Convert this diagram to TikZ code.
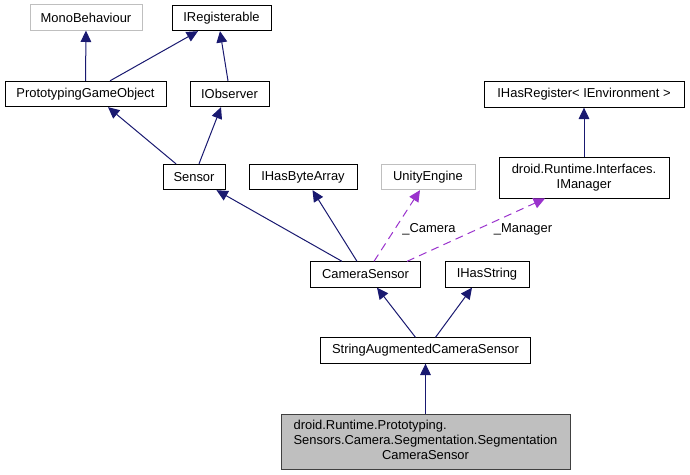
\documentclass[tikz,border=0pt]{standalone}
\usepackage{fontspec}
\setmainfont{Liberation Sans}
\usetikzlibrary{calc,arrows.meta}

\definecolor{edgeblue}{HTML}{191970}
\definecolor{usepurple}{HTML}{9A32CD}
\definecolor{curfill}{HTML}{BFBFBF}

\tikzset{
  cls/.style={draw=black,fill=white,line width=0.75pt,inner sep=0pt,
    minimum height=19pt,align=center,font=\fontsize{9.7}{11}\selectfont},
  extcls/.style={cls,draw=curfill},
  curcls/.style={cls,draw=black!75,fill=curfill},
  inh/.style={draw=edgeblue,line width=0.75pt,
    -{Triangle[length=8.5pt,width=8pt,fill=edgeblue]}},
  usage/.style={draw=usepurple,line width=0.75pt,dash pattern=on 6pt off 4pt,
    -{Triangle[length=8.5pt,width=8pt,fill=usepurple]}},
  lbl/.style={font=\fontsize{9.7}{11}\selectfont,inner sep=0pt}
}

\begin{document}
\begin{tikzpicture}[x=0.75pt,y=-0.75pt]
\useasboundingbox (0,0) rectangle (690,475);
% classes
\node[extcls,minimum width=84pt] (mono) at (86,17.5) {MonoBehaviour};
\node[cls,minimum width=74.25pt] (ireg) at (221.5,18) {IRegisterable};
\node[cls,minimum width=120.75pt] (pgo) at (85.5,94) {PrototypingGameObject};
\node[cls,minimum width=59.25pt] (iobs) at (229.5,94) {IObserver};
\node[cls,minimum width=46.5pt] (sensor) at (194,177) {Sensor};
\node[cls,minimum width=81pt] (ihba) at (303,177) {IHasByteArray};
\node[extcls,minimum width=70.5pt] (unity) at (428,177) {UnityEngine};
\node[cls,minimum width=150pt] (ihreg) at (584,94.5) {IHasRegister< IEnvironment >};
\node[cls,minimum width=127.5pt,minimum height=30.75pt] (imgr) at (584,177.5)
  {droid.Runtime.Interfaces.\\IManager};
\node[cls,minimum width=82.5pt] (cam) at (365.5,274.5) {CameraSensor};
\node[cls,minimum width=63pt] (ihs) at (487,274.5) {IHasString};
\node[cls,minimum width=157.5pt] (sacs) at (425.5,350.5) {StringAugmentedCameraSensor};
\node[curcls,minimum width=216.75pt,minimum height=41.25pt] (seg) at (425.5,441.5)
  {\begin{tabular}{@{}l@{}}droid.Runtime.Prototyping.\\
   Sensors.Camera.Segmentation.Segmentation\\
   \multicolumn{1}{@{}c@{}}{CameraSensor}\end{tabular}};

% inheritance
\draw[inh] (pgo.north) -- (mono.south);
\draw[inh] ($(pgo.north)+(24.5,0)$) -- ($(ireg.south)+(-23.5,0)$);
\draw[inh] ($(iobs.north)+(-1.5,0)$) -- ($(ireg.south)+(-1.5,0)$);
\draw[inh] ($(sensor.north)+(-18,0)$) -- ($(pgo.south)+(22.5,0)$);
\draw[inh] ($(sensor.north)+(5,0)$) -- ($(iobs.south)+(-8.5,0)$);
\draw[inh] ($(cam.north)+(-23.5,0)$) -- ($(sensor.south)+(22.5,0)$);
\draw[inh] ($(cam.north)+(-8.5,0)$) -- ($(ihba.south)+(9.5,0)$);
\draw[inh] (imgr.north) -- (ihreg.south);
\draw[inh] ($(sacs.north)+(-10,0)$) -- ($(cam.south)+(11.5,0)$);
\draw[inh] ($(sacs.north)+(10,0)$) -- ($(ihs.south)+(-15,0)$);
\draw[inh] (seg.north) -- (sacs.south);

% usage
\draw[usage] ($(cam.north)+(8.5,0)$) -- ($(unity.south)+(-8,0)$);
\draw[usage] ($(cam.north)+(41.5,0)$) -- ($(imgr.south)+(-39,0)$);
\node[lbl] (camlbl) at (429,229) {\_Camera};
\node[lbl] (mgrlbl) at (523,229) {\_Manager};
\end{tikzpicture}
\end{document}
